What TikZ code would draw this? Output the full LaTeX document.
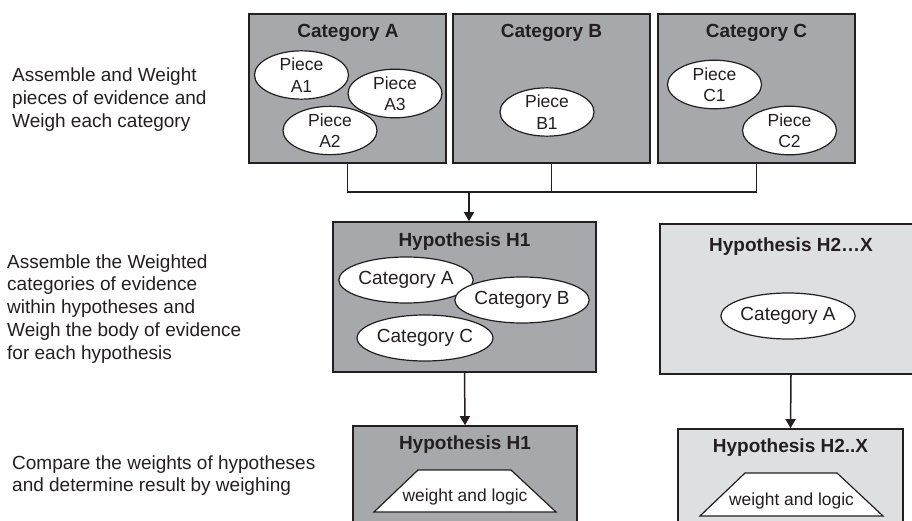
\documentclass[tikz,border=0pt]{standalone}
\usepackage{fontspec}
\setmainfont{Liberation Sans}
\usetikzlibrary{shapes.geometric,arrows.meta}
\definecolor{darkbox}{RGB}{166,168,171}
\definecolor{lightbox}{RGB}{222,223,225}
\definecolor{ink}{RGB}{35,31,32}
\begin{document}
\begin{tikzpicture}[x=1pt,y=-1pt,
  box/.style={rectangle, draw=ink, line width=1.6pt, inner sep=0pt},
  dbox/.style={box, fill=darkbox},
  lbox/.style={box, fill=lightbox},
  title/.style={font=\bfseries\fontsize{19}{22}\selectfont, text=ink, inner sep=0pt},
  piece/.style={ellipse, draw=ink, fill=white, line width=1.2pt, minimum width=94pt, minimum height=46pt, inner sep=0pt, align=center, font=\fontsize{17.5}{21.5}\selectfont, text=ink},
  catell/.style={ellipse, draw=ink, fill=white, line width=1.2pt, minimum width=121pt, minimum height=46pt, inner sep=0pt, font=\fontsize{19}{22}\selectfont, text=ink},
  trapline/.style={draw=ink, fill=white, line width=1.2pt, line join=miter},
  traptext/.style={font=\fontsize{17.4}{20}\selectfont, text=ink, inner sep=0pt},
  lefttext/.style={align=left, anchor=base west, font=\fontsize{19}{22.75}\selectfont, text=ink, inner sep=0pt},
  conn/.style={draw=ink, line width=1.5pt},
  arr/.style={conn, -{Triangle[width=10pt,length=9pt]}}
]
\useasboundingbox (0,0) rectangle (912,521);
\clip (0,0) rectangle (912,521);

% left descriptions (anchor = baseline of last line)
\node[lefttext, font=\fontsize{19}{23}\selectfont] (d1) at (12,128) {Assemble and Weight\\pieces of evidence and\\Weigh each category};
\node[lefttext] (d2) at (7,359) {Assemble the Weighted\\categories of evidence\\within hypotheses and\\Weigh the body of evidence\\for each hypothesis};
\node[lefttext, font=\fontsize{19}{22}\selectfont] (d3) at (12,491) {Compare the weights of hypotheses\\and determine result by weighing};

% category boxes
\node[dbox, minimum width=197pt, minimum height=149pt] (catA) at (347.5,88.5) {};
\node[dbox, minimum width=197pt, minimum height=149pt] (catB) at (551.5,88.5) {};
\node[dbox, minimum width=197pt, minimum height=149pt] (catC) at (756.5,88.5) {};
\node[title] (tA) at (348,33) {Category A};
\node[title] (tB) at (551.5,33) {Category B};
\node[title] (tC) at (756.5,33) {Category C};

\node[piece] (pA1) at (301.5,75) {Piece\\A1};
\node[piece] (pA3) at (395,93.5) {Piece\\A3};
\node[piece] (pA2) at (330,130.5) {Piece\\A2};
\node[piece] (pB1) at (547,112) {Piece\\B1};
\node[piece] (pC1) at (714.5,84.5) {Piece\\C1};
\node[piece] (pC2) at (789.5,130.5) {Piece\\C2};

% hypothesis boxes
\node[dbox, minimum width=263pt, minimum height=150pt] (h1) at (464.5,297) {};
\node[title] (th1) at (464.5,242) {Hypothesis H1};
\node[catell] (hA) at (406,280) {Category A};
\node[catell] (hB) at (522,300) {Category B};
\node[catell] (hC) at (425,338) {Category C};

\node[lbox, minimum width=262pt, minimum height=150pt] (h2) at (791,299) {};
\node[title] (th2) at (791,247) {Hypothesis H2…X};
\node[catell] (h2A) at (788,316) {Category A};

% result boxes
\node[dbox, minimum width=224pt, minimum height=120pt] (r1) at (465,486) {};
\node[title] (tr1) at (465,445) {Hypothesis H1};
\draw[trapline] (374,512) -- (418,470) -- (511,470) -- (556,512) -- cycle;
\node[traptext] (w1t) at (465,497) {weight and logic};

\node[lbox, minimum width=225pt, minimum height=120pt] (r2) at (790.5,489) {};
\node[title] (tr2) at (790.5,448) {Hypothesis H2..X};
\draw[trapline] (700,516) -- (745,473) -- (837,473) -- (883,516) -- cycle;
\node[traptext] (w2t) at (791.5,500.5) {weight and logic};

% connectors
\coordinate (jn) at (469,192);
\draw[conn] (catA.south) |- (jn);
\draw[conn] (catC.south) |- (jn);
\draw[conn] (catB.south) -- (catB.south |- jn);
\draw[arr] (jn) -- (jn |- h1.north);
\draw[arr] (h1.south) -- (r1.north);
\draw[arr] (h2.south) -- (r2.north);
\end{tikzpicture}
\end{document}
